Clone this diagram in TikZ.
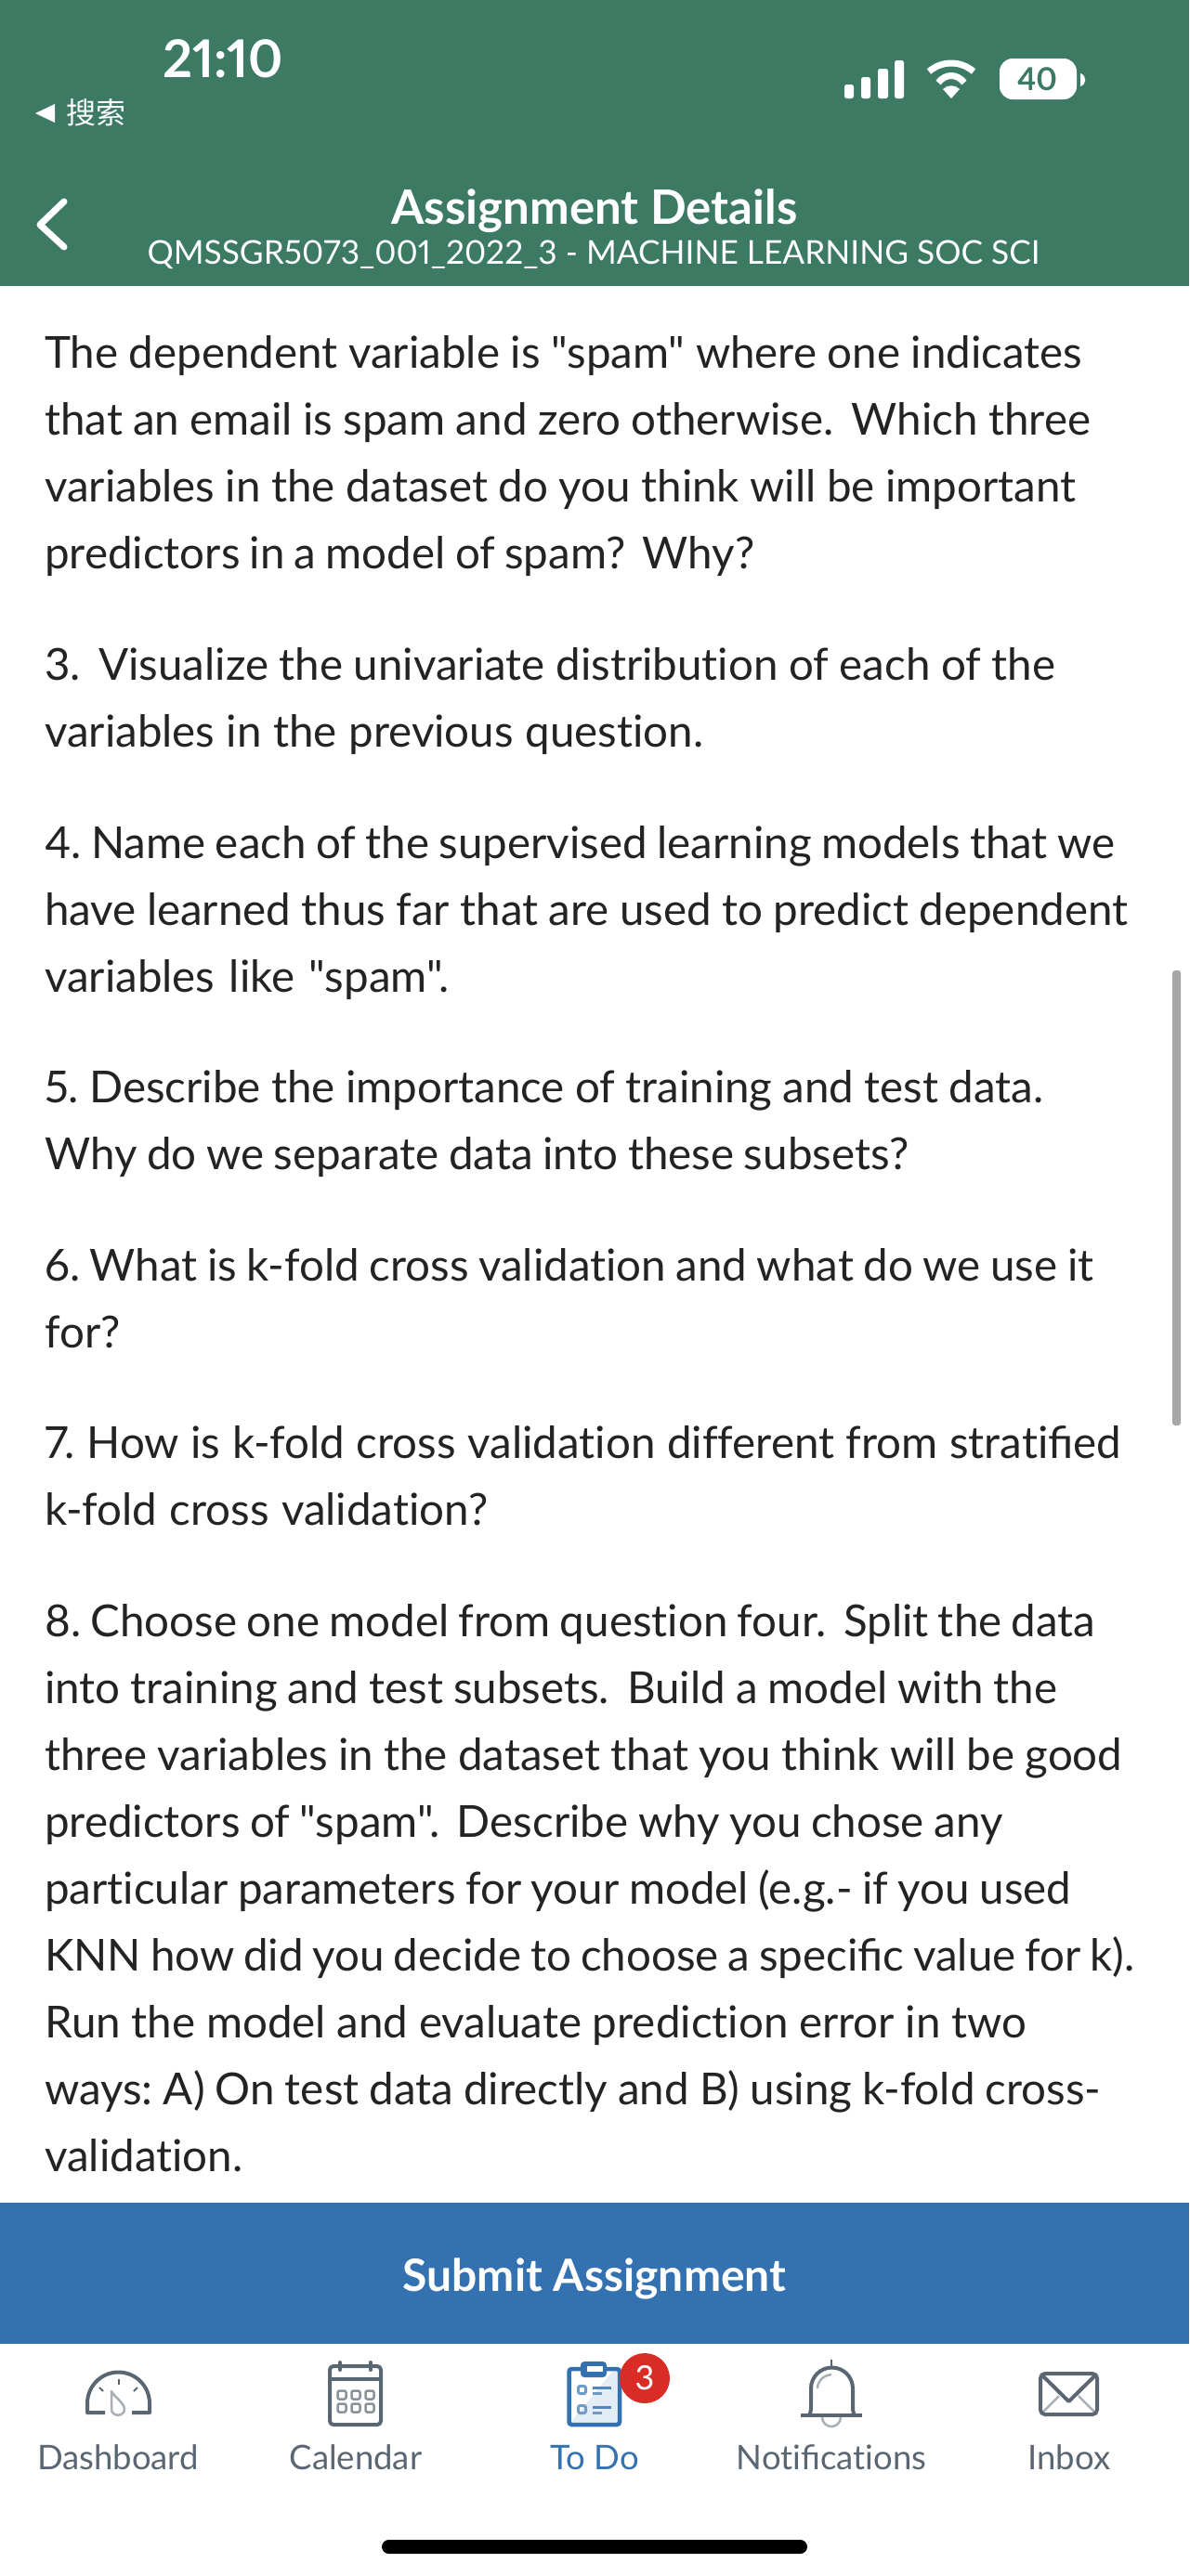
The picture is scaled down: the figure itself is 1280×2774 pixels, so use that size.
\documentclass[tikz,border=0pt]{standalone}
\usepackage{fontspec}
\newfontfamily\latofont{Lato}[Numbers=Proportional,Ligatures=NoCommon]
\newfontfamily\cjkfont{Noto Sans CJK SC}
\newcommand{\dsp}{\hspace{8pt} }
\newcommand{\fitline}[2]{\hbox to #1pt{\frenchspacing\spaceskip=0.05em plus 1fil\relax #2}}
\definecolor{hdr}{HTML}{3C7A63}
\definecolor{btn}{HTML}{3371B1}
\definecolor{btnlight}{HTML}{6E9CC9}
\definecolor{ink}{HTML}{232323}
\definecolor{tabgray}{HTML}{5B6673}
\definecolor{lightgray}{HTML}{A9AFB6}
\definecolor{paleblue}{HTML}{E4EDF5}
\definecolor{badge}{HTML}{D92C27}
\definecolor{scrollc}{HTML}{A6A6A6}
\tikzset{
  bodyline/.style={anchor=base west,inner sep=0pt,text=ink,font=\latofont\fontsize{47.5}{50}\selectfont},
  hdrtext/.style={anchor=base,inner sep=0pt,text=white},
  tablabel/.style={anchor=base,inner sep=0pt,text=tabgray,font=\latofont\fontsize{36.5}{40}\selectfont},
  tabicon/.style={draw=tabgray,line width=4pt},
  tabthin/.style={draw=lightgray,line width=2.5pt},
}
\begin{document}
\begin{tikzpicture}[x=1pt,y=-1pt]
\useasboundingbox (0,0) rectangle (1280,2774);
\fill[white] (0,0) rectangle (1280,2774);
% header
\fill[hdr] (0,0) rectangle (1280,308);
\node[hdrtext,font=\latofont\fontsize{56}{60}\selectfont\bfseries] (clock) at (240,83) {21:10};
\fill[white] (59,112) -- (59,132) -- (38,122) -- cycle;
\node[anchor=base west,inner sep=0pt,text=white,font=\cjkfont\fontsize{32}{36}\selectfont] (search) at (71,133) {搜索};
% signal
\fill[white,rounded corners=2.5pt] (909,91) rectangle (919,106);
\fill[white,rounded corners=2.5pt] (927,83) rectangle (937,106);
\fill[white,rounded corners=2.5pt] (945,74) rectangle (956,106);
\fill[white,rounded corners=2.5pt] (963,65) rectangle (973,106);
% wifi
\begin{scope}[line width=7pt]
\draw[white] (1000,77) .. controls (1014,65) and (1034,65) .. (1048,77);
\draw[white] (1010,89) .. controls (1018,79) and (1030,79) .. (1038,89);
\end{scope}
\fill[white] (1024,106) -- (1015,96) .. controls (1020,91) and (1028,91) .. (1033,96) -- cycle;
% battery
\fill[white,rounded corners=14pt] (1076,63) rectangle (1159,107);
\fill[white] (1163,79) .. controls (1170,81) and (1170,91) .. (1163,93) -- cycle;
\node[anchor=base,inner sep=0pt,text=hdr,font=\latofont\fontsize{34}{40}\selectfont\bfseries] (batt) at (1116.5,97) {40};
% nav
\draw[white,line width=7pt,line cap=round,line join=round] (69,217) -- (43,242) -- (69,266);
\node[hdrtext,font=\latofont\fontsize{51}{54}\selectfont\bfseries] (title) at (640,241) {Assignment Details};
\node[hdrtext,font=\latofont\fontsize{35.3}{40}\selectfont] (sub) at (639,284) {QMSSGR5073\_001\_2022\_3 - MACHINE LEARNING SOC SCI};
% body
\node[bodyline] (a1) at (48,396) {\fitline{1117}{The dependent variable is "spam" where one indicates}};
\node[bodyline] (a2) at (48,468) {\fitline{1126}{that an email is spam and zero otherwise.\dsp Which three}};
\node[bodyline] (a3) at (48,540) {\fitline{1110}{variables in the dataset do you think will be important}};
\node[bodyline] (a4) at (48,612) {\fitline{764}{predictors in a model of spam?\dsp Why?}};
\node[bodyline] (b1) at (48,732) {\fitline{1088}{3.\dsp Visualize the univariate distribution of each of the}};
\node[bodyline] (b2) at (48,804) {\fitline{709}{variables in the previous question.}};
\node[bodyline] (c1) at (48,924) {\fitline{1152}{4. Name each of the supervised learning models that we}};
\node[bodyline] (c2) at (48,996) {\fitline{1166}{have learned thus far that are used to predict dependent}};
\node[bodyline] (c3) at (48,1068) {\fitline{435}{variables like "spam".}};
\node[bodyline] (d1) at (48,1187) {\fitline{1075}{5. Describe the importance of training and test data.}};
\node[bodyline] (d2) at (48,1259) {\fitline{930}{Why do we separate data into these subsets?}};
\node[bodyline] (e1) at (48,1379) {\fitline{1129}{6. What is k-fold cross validation and what do we use it}};
\node[bodyline] (e2) at (48,1451) {for?};
\node[bodyline] (f1) at (48,1570) {\fitline{1159}{7. How is k-fold cross validation different from stratiﬁed}};
\node[bodyline] (f2) at (48,1642) {\fitline{477}{k-fold cross validation?}};
\node[bodyline] (g1) at (48,1762) {\fitline{1131}{8. Choose one model from question four.\dsp Split the data}};
\node[bodyline] (g2) at (48,1834) {\fitline{1090}{into training and test subsets.\dsp Build a model with the}};
\node[bodyline] (g3) at (48,1906) {\fitline{1160}{three variables in the dataset that you think will be good}};
\node[bodyline] (g4) at (48,1978) {\fitline{1031}{predictors of "spam".\dsp Describe why you chose any}};
\node[bodyline] (g5) at (48,2050) {\fitline{1105}{particular parameters for your model (e.g.- if you used}};
\node[bodyline] (g6) at (48,2122) {\fitline{1173}{KNN how did you decide to choose a speciﬁc value for k).}};
\node[bodyline] (g7) at (48,2194) {\fitline{1057}{Run the model and evaluate prediction error in two}};
\node[bodyline] (g8) at (48,2266) {\fitline{1137}{ways: A) On test data directly and B) using k-fold cross-}};
\node[bodyline] (g9) at (48,2338) {validation.};
% scrollbar
\fill[scrollc,rounded corners=3pt] (1262,1045) rectangle (1271,1535);
% button
\fill[btn] (0,2372) rectangle (1280,2524);
\node[hdrtext,font=\latofont\fontsize{48}{50}\selectfont\bfseries] (submit) at (640,2467) {Submit Assignment};
% tabs
\node[tablabel] (t1) at (127,2659) {Dashboard};
\node[tablabel] (t2) at (383,2659) {Calendar};
\node[tablabel,text=btn] (t3) at (640,2659) {To Do};
\node[tablabel] (t4) at (895,2659) {Notiﬁcations};
\node[tablabel] (t5) at (1151,2659) {Inbox};
% dashboard icon
\draw[tabicon,line join=round] (113,2598) -- (94,2598) -- (94,2588) arc[start angle=180,end angle=360,radius=33.5] -- (161,2598) -- (142,2598);
\draw[tabthin,line join=round] (120,2575) .. controls (122,2580) and (134,2588) .. (134,2594) .. controls (134,2603) and (120,2603) .. (120,2594) -- cycle;
\draw[tabgray,line width=2pt] (127.5,2562) -- (127.5,2568);
\draw[tabgray,line width=2pt] (107,2571) -- (111,2575);
\draw[tabgray,line width=2pt] (148,2571) -- (144,2575);
% calendar icon
\draw[tabicon,line join=round,rounded corners=4pt] (355,2611) -- (355,2548) -- (410,2548) -- (410,2611) -- cycle;
\draw[tabicon] (355,2562) -- (410,2562);
\draw[tabgray,line width=4pt,line cap=round] (366,2544) -- (366,2552);
\draw[tabgray,line width=4pt,line cap=round] (399,2544) -- (399,2552);
\foreach \cx in {368,383,398}{\foreach \cy in {2579,2593}{\draw[draw=lightgray!60!tabgray,line width=2.5pt,rounded corners=2pt] (\cx-4.5,\cy-4.5) rectangle (\cx+4.5,\cy+4.5);}}
% todo icon
\fill[paleblue] (612,2550) rectangle (667,2611);
\fill[white] (612,2550) -- (662,2550) -- (612,2611) -- cycle;
\draw[btn,line width=4.5pt,rounded corners=3pt] (625,2551) -- (612.5,2551) -- (612.5,2611) -- (667,2611) -- (667,2551) -- (653,2551);
\fill[btn,rounded corners=4pt] (625,2543) rectangle (653,2560);
\fill[white] (632,2548) rectangle (649,2554);
\draw[btnlight,line width=3pt,rounded corners=2pt] (622.5,2569.5) rectangle (630.5,2577.5);
\draw[btnlight,line width=3pt,rounded corners=2pt] (622.5,2590.5) rectangle (630.5,2598.5);
\draw[btn!85!white,line width=3pt] (638,2571) -- (658,2571);
\draw[btnlight,line width=3pt] (638,2577) -- (648,2577);
\draw[btn!85!white,line width=3pt] (638,2592) -- (658,2592);
\draw[btnlight,line width=3pt] (638,2598) -- (648,2598);
\node[circle,fill=badge,inner sep=0pt,minimum size=54pt,text=white,font=\latofont\fontsize{36}{40}\selectfont] (badge3) at (694,2561) {3};
% bell icon
\draw[tabthin] (885,2603) arc[start angle=180,end angle=0,radius=10];
\draw[tabicon] (862,2601) -- (928,2601);
\draw[tabicon,line width=4pt] (871,2601) .. controls (873,2597) and (873,2595) .. (873,2590) -- (873,2572) arc[start angle=180,end angle=360,radius=22.5] -- (918,2590) .. controls (918,2595) and (918,2597) .. (920,2601);
\draw[tabgray,line width=2pt] (895,2541) -- (895,2548);
\draw[tabthin] (880,2572) .. controls (880,2564) and (886,2558) .. (895,2557);
% envelope
\draw[tabthin] (1123,2597) -- (1140,2580);
\draw[tabthin] (1178,2597) -- (1161,2580);
\draw[tabicon,rounded corners=5pt] (1120,2556) rectangle (1181,2600);
\draw[tabicon,line join=round] (1121,2557) -- (1150.5,2586) -- (1180,2557);
% home indicator
\fill[black,rounded corners=7.5pt] (411,2735) rectangle (869,2750);
\end{tikzpicture}
\end{document}
